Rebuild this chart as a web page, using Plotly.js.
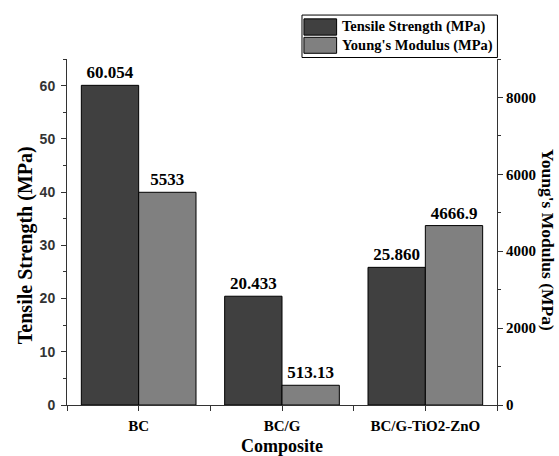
<!DOCTYPE html>
<html>
<head>
<meta charset="utf-8">
<script src="https://cdn.plot.ly/plotly-3.0.1.min.js"></script>
<style>html,body{margin:0;padding:0;background:#fff;}#chart{width:559px;height:456px;}</style>
</head>
<body>
<div id="chart"></div>
<script>
// ---- data ----
const categories = ['BC', 'BC/G', 'BC/G-TiO2-ZnO'];
const seriesNames = ['Tensile Strength (MPa)', "Young's Modulus (MPa)"];
const tensileStrength = [60.054, 20.433, 25.860];
const tensileLabels = ['60.054', '20.433', '25.860'];
const youngsModulus = [5533, 513.13, 4666.9];
const youngsLabels = ['5533', '513.13', '4666.9'];
const leftTicks = [0, 10, 20, 30, 40, 50, 60];
const rightTicks = [0, 2000, 4000, 6000, 8000];

// ---- styling ----
const SERIF = 'Liberation Serif';
const SANS = 'Liberation Sans';
const darkColor = '#404040';
const lightColor = '#808080';
const axisColor = '#333333';

const xpos = categories.map((_, i) => i);
const halfTicks = [];
for (let i = -0.5; i <= categories.length - 0.5 + 1e-9; i += 0.5) halfTicks.push(i);
const halfText = halfTicks.map(v => Number.isInteger(v) ? categories[v] : '');

const traces = [
  {
    type: 'bar', name: seriesNames[0], x: xpos, y: tensileStrength,
    text: tensileLabels, textposition: 'outside', constraintext: 'none', cliponaxis: false,
    textfont: {family: SERIF, size: 17, weight: 'bold', color: '#000'},
    width: 0.4, offset: -0.4,
    marker: {color: darkColor, line: {color: '#000', width: 1}},
    xaxis: 'x', yaxis: 'y', showlegend: false, hoverinfo: 'none'
  },
  {
    type: 'bar', name: seriesNames[1], x: xpos, y: youngsModulus,
    text: youngsLabels, textposition: 'outside', constraintext: 'none', cliponaxis: false,
    textfont: {family: SERIF, size: 17, weight: 'bold', color: '#000'},
    width: 0.4, offset: 0,
    marker: {color: lightColor, line: {color: '#000', width: 1}},
    xaxis: 'x', yaxis: 'y2', showlegend: false, hoverinfo: 'none'
  }
];

// legend geometry (paper coordinates)
const legendShapes = [
  {type: 'rect', xref: 'paper', yref: 'paper', x0: 0.5465, x1: 1.001, y0: 1.0043, y1: 1.127,
   line: {color: '#000', width: 1}, fillcolor: '#fff'},
  {type: 'rect', xref: 'paper', yref: 'paper', x0: 0.551, x1: 0.627, y0: 1.069, y1: 1.116,
   line: {color: '#000', width: 1}, fillcolor: darkColor},
  {type: 'rect', xref: 'paper', yref: 'paper', x0: 0.551, x1: 0.627, y0: 1.0165, y1: 1.0627,
   line: {color: '#000', width: 1}, fillcolor: lightColor}
];

const annotations = [
  {xref: 'paper', yref: 'paper', x: 0.6345, y: 1.0925, xanchor: 'left', yanchor: 'middle',
   text: seriesNames[0], showarrow: false, font: {family: SERIF, size: 14.5, weight: 'bold', color: '#000'}},
  {xref: 'paper', yref: 'paper', x: 0.6345, y: 1.0396, xanchor: 'left', yanchor: 'middle',
   text: seriesNames[1], showarrow: false, font: {family: SERIF, size: 14.5, weight: 'bold', color: '#000'}},
  {xref: 'paper', yref: 'paper', x: -0.0977, y: 0.462, xanchor: 'center', yanchor: 'middle',
   text: 'Tensile Strength (MPa)', textangle: -90, showarrow: false,
   font: {family: SERIF, size: 20, weight: 'bold', color: '#000'}},
  {xref: 'paper', yref: 'paper', x: 1.1185, y: 0.477, xanchor: 'center', yanchor: 'middle',
   text: "Young's Modulus (MPa)", textangle: 90, showarrow: false,
   font: {family: SERIF, size: 17.5, weight: 'bold', color: '#000'}}
];

const layout = {
  width: 559, height: 456,
  margin: {l: 67, r: 62, t: 59, b: 51},
  paper_bgcolor: '#fff', plot_bgcolor: '#fff',
  showlegend: false,
  xaxis: {
    range: [-0.5, categories.length - 0.5], tickmode: 'array', tickvals: halfTicks, ticktext: halfText,
    ticks: 'outside', ticklen: 5, tickcolor: axisColor, showline: true, linecolor: axisColor, linewidth: 1,
    showgrid: false, zeroline: false, ticklabelstandoff: 2,
    tickfont: {family: SERIF, size: 15, weight: 'bold', color: '#000'},
    title: {text: 'Composite', standoff: 12, font: {family: SERIF, size: 18, weight: 'bold', color: '#000'}}
  },
  xaxis2: {
    overlaying: 'x', side: 'top', anchor: 'y', range: [-0.5, categories.length - 0.5],
    tickmode: 'array', tickvals: halfTicks, ticktext: halfTicks.map(() => ''),
    ticks: 'inside', ticklen: 5, tickcolor: axisColor, showline: true, linecolor: axisColor, linewidth: 1,
    showgrid: false, zeroline: false, showticklabels: false
  },
  yaxis: {
    range: [0, 65], tickmode: 'array', tickvals: leftTicks,
    ticks: 'outside', ticklen: 5, tickcolor: axisColor, ticklabelstandoff: 3,
    minor: {dtick: 5, tick0: 0, ticks: 'outside', ticklen: 3, tickcolor: axisColor, showgrid: false},
    showline: true, linecolor: axisColor, linewidth: 1, showgrid: false, zeroline: false,
    tickfont: {family: SANS, size: 14, weight: 'bold', color: '#333'}
  },
  yaxis2: {
    overlaying: 'y', side: 'right', anchor: 'x', range: [0, 9000], tickmode: 'array', tickvals: rightTicks,
    ticks: 'outside', ticklen: 5, tickcolor: axisColor,
    minor: {dtick: 1000, tick0: 0, ticks: 'outside', ticklen: 3, tickcolor: axisColor, showgrid: false},
    showline: true, linecolor: axisColor, linewidth: 1, showgrid: false, zeroline: false,
    tickfont: {family: SERIF, size: 15, weight: 'bold', color: '#000'}
  },
  shapes: legendShapes,
  annotations: annotations
};

Plotly.newPlot('chart', traces, layout, {staticPlot: true, displayModeBar: false});
</script>
</body>
</html>
